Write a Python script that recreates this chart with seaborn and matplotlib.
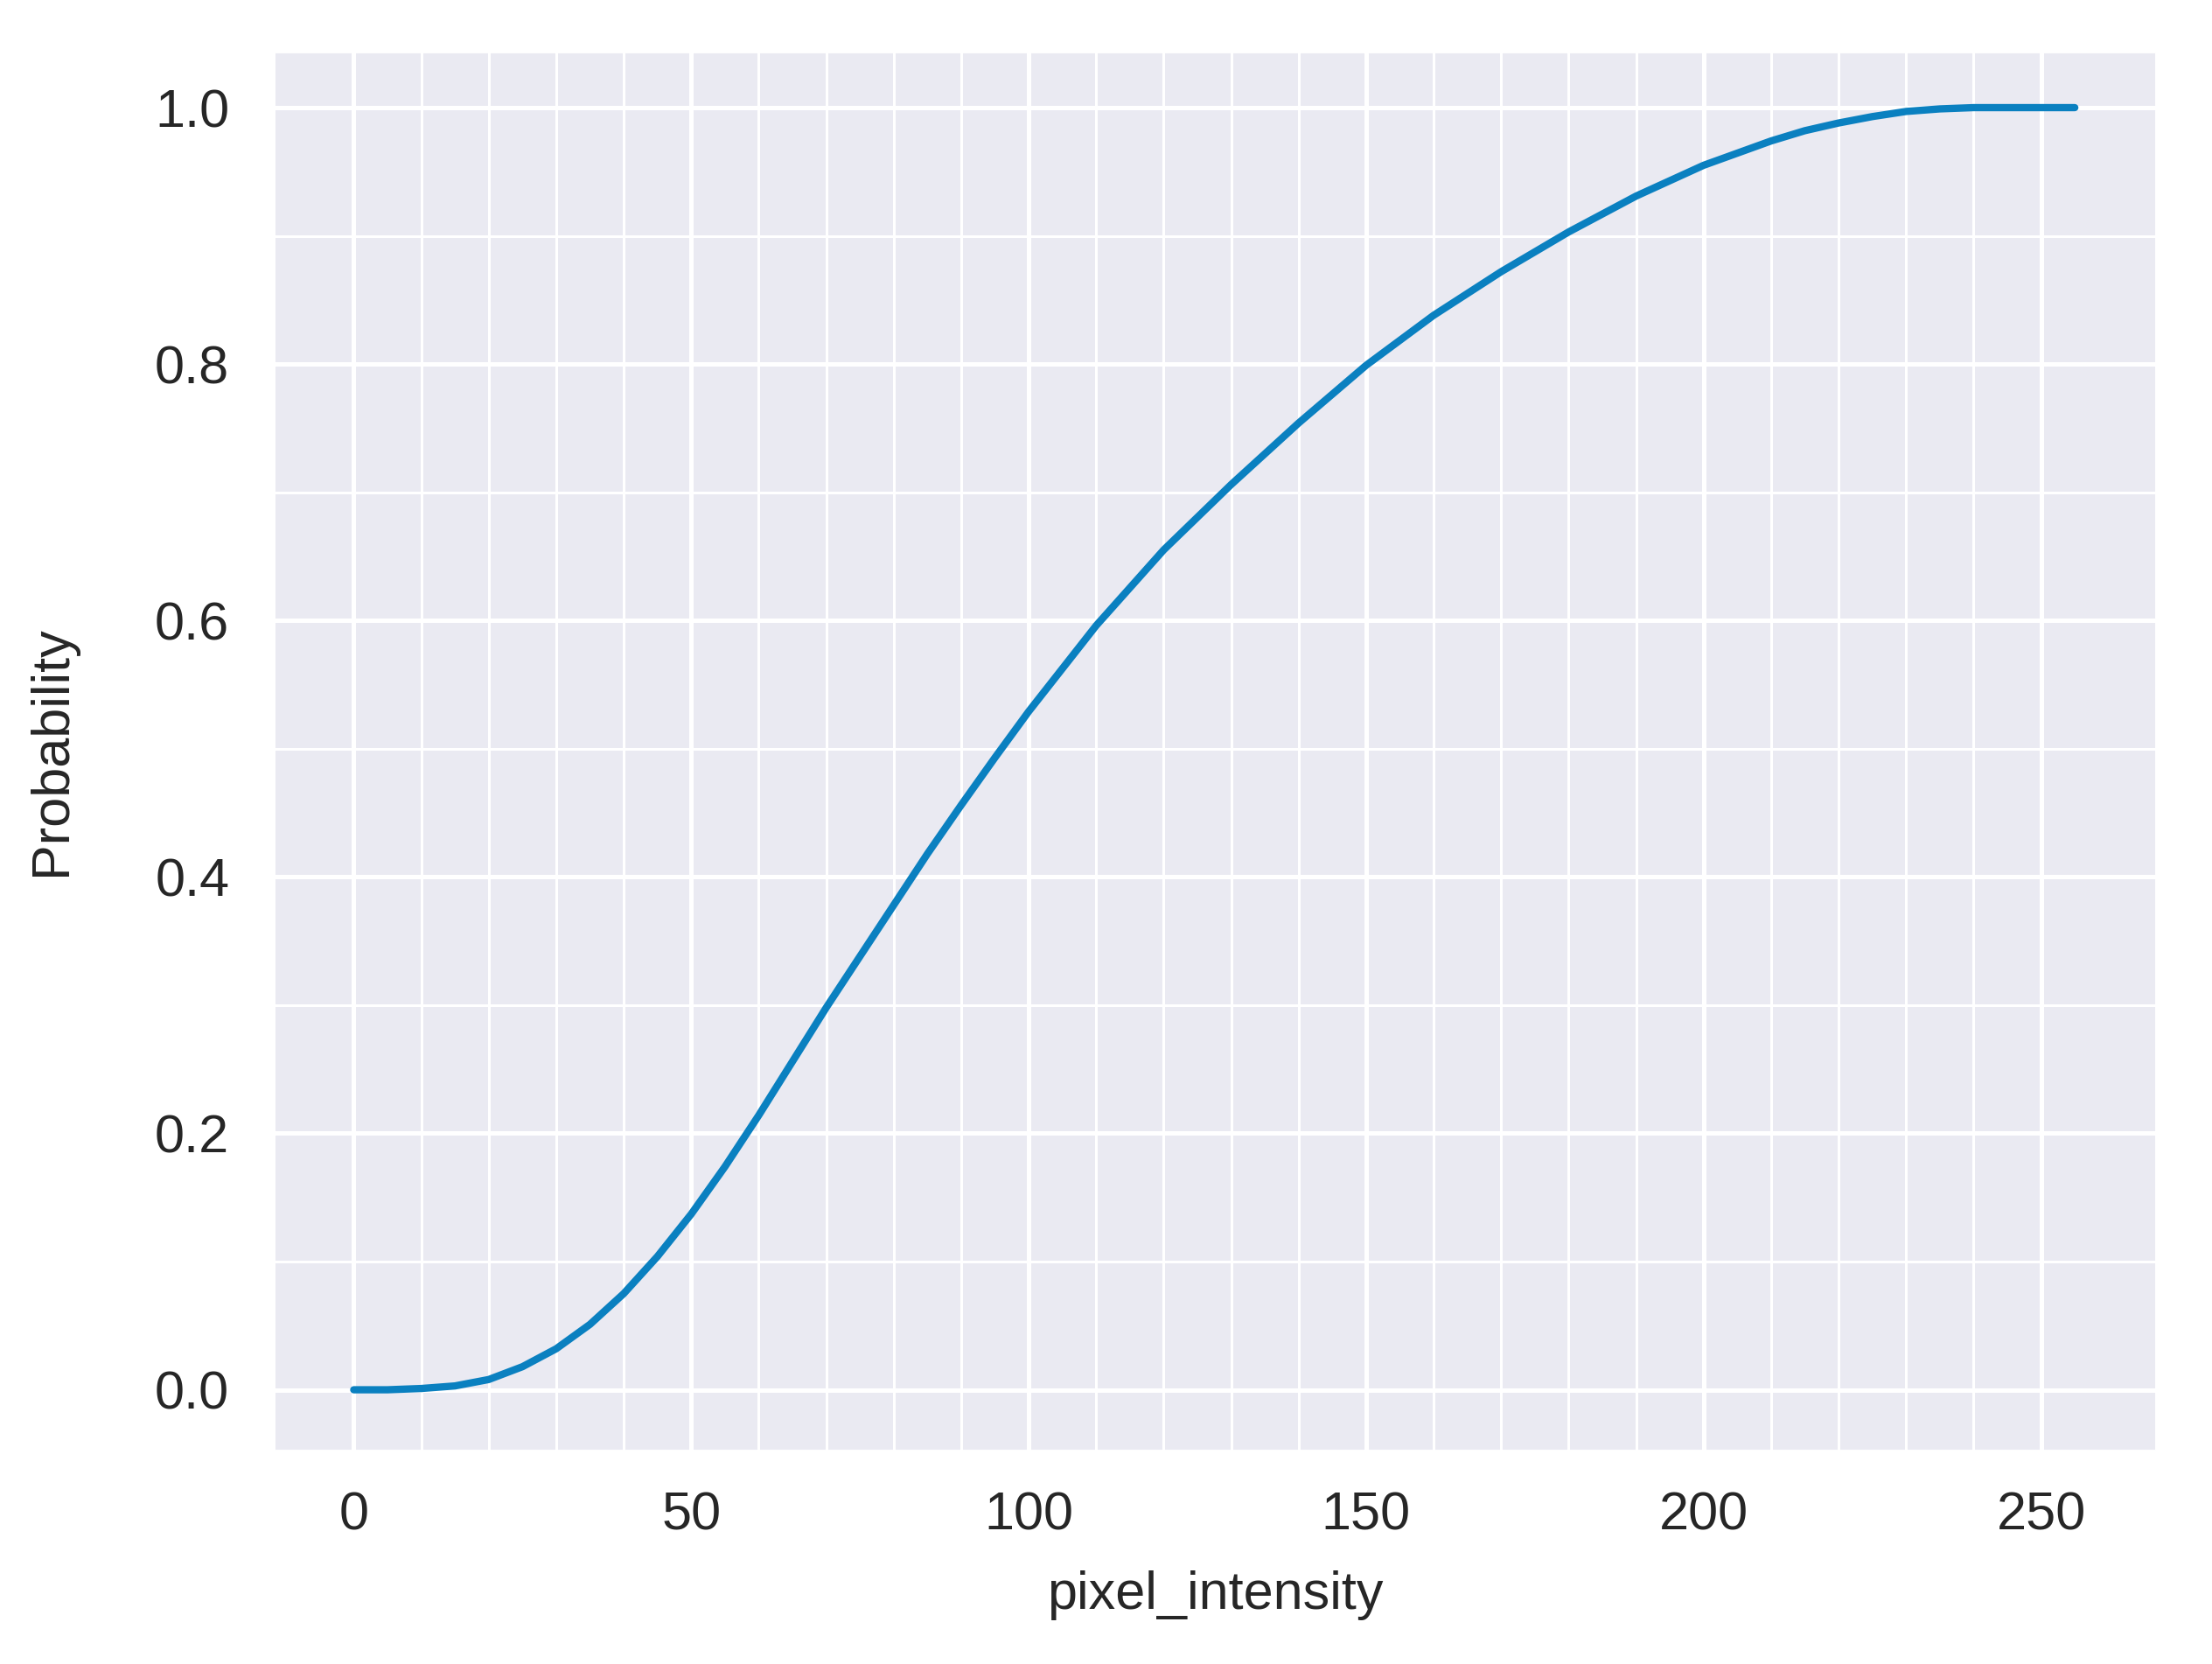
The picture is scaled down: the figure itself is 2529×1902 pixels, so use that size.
import matplotlib
matplotlib.use("Agg")
import matplotlib.pyplot as plt
import seaborn as sns
import pandas as pd

# Data
pixel_intensity = [0, 5, 10, 15, 20, 25, 30, 35, 40, 45, 50, 55, 60, 65, 70, 75, 80,
                   85, 90, 95, 100, 110, 120, 130, 140, 150, 160, 170, 180, 190, 200,
                   210, 215, 220, 225, 230, 235, 240, 250, 255]
probability = [0.0, 0.0, 0.001, 0.003, 0.008, 0.018, 0.032, 0.051, 0.075, 0.104, 0.137,
               0.174, 0.214, 0.256, 0.298, 0.338, 0.378, 0.418, 0.456, 0.493, 0.529,
               0.596, 0.655, 0.706, 0.754, 0.799, 0.838, 0.872, 0.903, 0.931, 0.955,
               0.974, 0.982, 0.988, 0.993, 0.997, 0.999, 1.0, 1.0, 1.0]
x_major_ticks = [0, 50, 100, 150, 200, 250]
x_minor_ticks = list(range(0, 251, 10))
y_major_ticks = [0.0, 0.2, 0.4, 0.6, 0.8, 1.0]
y_minor_ticks = [0.1, 0.3, 0.5, 0.7, 0.9]

df = pd.DataFrame({"pixel_intensity": pixel_intensity, "Probability": probability})

sns.set_theme(style="darkgrid")
plt.rcParams["font.family"] = ["Liberation Sans", "DejaVu Sans"]

fig, ax = plt.subplots(figsize=(2529 / 400, 1902 / 400), dpi=400)
fig.subplots_adjust(left=0.123, right=0.9755, bottom=0.1272, top=0.970)

sns.lineplot(data=df, x="pixel_intensity", y="Probability", ax=ax,
             color="#0a80c0", linewidth=1.5)

ax.set_xlim(-12.1, 267.3)
ax.set_ylim(-0.0488, 1.045)
ax.set_xticks(x_major_ticks)
ax.set_xticks(x_minor_ticks, minor=True)
ax.set_yticks(y_major_ticks)
ax.set_yticks(y_minor_ticks, minor=True)
ax.set_yticklabels([f"{v:.1f}" for v in y_major_ticks])

ax.grid(which="major", color="white", linewidth=0.9)
ax.grid(which="minor", color="white", linewidth=0.55)

ax.tick_params(axis="both", which="both", length=0, labelsize=11, colors="#262626")
ax.tick_params(axis="x", which="major", pad=8)
ax.tick_params(axis="y", which="major", pad=8.8)

ax.set_xlabel("pixel_intensity", fontsize=11, labelpad=6, color="#262626")
ax.set_ylabel("Probability", fontsize=11, labelpad=16, color="#262626")

fig.savefig("out.png", dpi=400)
